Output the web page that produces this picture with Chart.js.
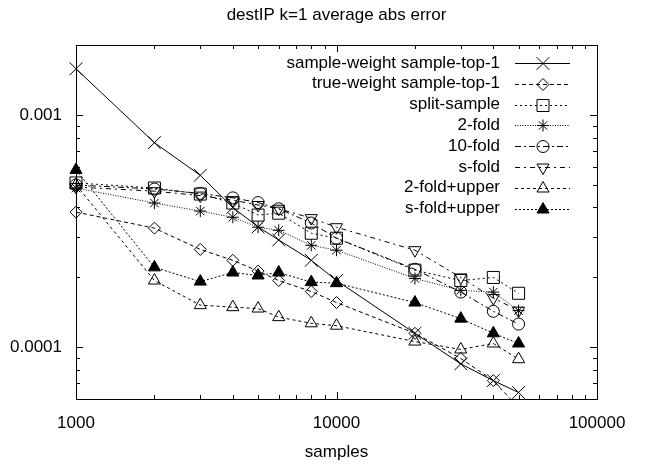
<!DOCTYPE html>
<html>
<head>
<meta charset="utf-8">
<script src="https://cdn.jsdelivr.net/npm/chart.js@4/dist/chart.umd.min.js"></script>
<style>
  html, body { margin: 0; padding: 0; background: #fff; }
  #wrap { width: 648px; height: 468px; }
</style>
</head>
<body>
<div id="wrap"><canvas id="chart" width="648" height="468"></canvas></div>
<script>
const chartTitle = "destIP k=1 average abs error";
const xTitle = "samples";

const samples = [1000, 2000, 3000, 4000, 5000, 6000, 8000, 10000, 20000, 30000, 40000, 50000];

const seriesNames = [
  "sample-weight sample-top-1",
  "true-weight sample-top-1",
  "split-sample",
  "2-fold",
  "10-fold",
  "s-fold",
  "2-fold+upper",
  "s-fold+upper"
];

const sampleWeight = [1.58e-3, 7.6e-4, 5.5e-4, 4.0e-4, 3.3e-4, 2.9e-4, 2.37e-4, 1.94e-4, 1.15e-4, 8.5e-5, 7.2e-5, 6.4e-5];
const trueWeight   = [3.82e-4, 3.26e-4, 2.64e-4, 2.37e-4, 2.13e-4, 1.94e-4, 1.74e-4, 1.56e-4, 1.15e-4, 8.96e-5, 7.2e-5, 5.5e-5];
const splitSample  = [5.1e-4, 4.85e-4, 4.57e-4, 4.18e-4, 3.71e-4, 3.78e-4, 3.1e-4, 2.95e-4, 2.15e-4, 1.94e-4, 2.0e-4, 1.71e-4];
const twoFold      = [4.85e-4, 4.18e-4, 3.86e-4, 3.63e-4, 3.29e-4, 3.19e-4, 2.75e-4, 2.62e-4, 1.98e-4, 1.76e-4, 1.73e-4, 1.44e-4];
const tenFold      = [5.0e-4, 4.8e-4, 4.6e-4, 4.4e-4, 4.2e-4, 3.95e-4, 3.43e-4, 2.95e-4, 2.17e-4, 1.73e-4, 1.43e-4, 1.26e-4];
const sFold        = [4.9e-4, 4.7e-4, 4.5e-4, 4.3e-4, 4.1e-4, 3.95e-4, 3.6e-4, 3.29e-4, 2.62e-4, 2.0e-4, 1.63e-4, 1.44e-4];
const twoFoldUpper = [5.0e-4, 1.94e-4, 1.52e-4, 1.49e-4, 1.47e-4, 1.35e-4, 1.27e-4, 1.24e-4, 1.06e-4, 9.8e-5, 1.04e-4, 8.9e-5];
const sFoldUpper   = [5.8e-4, 2.21e-4, 1.92e-4, 2.1e-4, 2.04e-4, 2.1e-4, 1.91e-4, 1.89e-4, 1.56e-4, 1.33e-4, 1.15e-4, 1.04e-4];

const xTickLabels = ["1000", "10000", "100000"];
const yTickLabels = ["0.0001", "0.001"];

const allValues = [sampleWeight, trueWeight, splitSample, twoFold, tenFold, sFold, twoFoldUpper, sFoldUpper];

const FONT = "'Liberation Sans', Arial, Helvetica, sans-serif";
const FS = 17;
const none = "rgba(0,0,0,0)";

// marker + dash per series, gnuplot style
const styles = [
  { dash: [],            point: "crossRot", r: 9,   fill: none },
  { dash: [4, 3],        point: "rectRot",  r: 6,   fill: none },
  { dash: [2, 3],        point: "rect",     r: 8.5, fill: none },
  { dash: [1, 1.5],      point: "star",     r: 6,   fill: none },
  { dash: [6, 3, 2, 3],  point: "circle",   r: 6,   fill: none },
  { dash: [5, 4, 2, 4],  point: "triangle", r: 7,   fill: none, rot: 180 },
  { dash: [3, 3],        point: "triangle", r: 7,   fill: none },
  { dash: [2, 2],        point: "triangle", r: 7,   fill: "#000" }
];

const datasets = allValues.map((vals, i) => ({
  label: seriesNames[i],
  data: samples.map((x, j) => ({ x: x, y: vals[j] })),
  borderColor: "#000",
  borderWidth: 1,
  borderDash: styles[i].dash,
  pointStyle: styles[i].point,
  pointRadius: styles[i].r,
  pointRotation: styles[i].rot || 0,
  pointBorderColor: "#000",
  pointBackgroundColor: styles[i].fill,
  pointBorderWidth: 1,
  tension: 0,
  clip: { left: 12, right: 12, top: 12, bottom: 0 }
}));

function isPow10(v) {
  const l = Math.log10(v);
  return Math.abs(l - Math.round(l)) < 1e-6;
}

function keepIntegerTicks(scale) {
  scale.ticks = scale.ticks.filter(t => {
    const s = t.value / Math.pow(10, Math.floor(Math.log10(t.value) + 1e-9));
    return Math.abs(s - Math.round(s)) < 1e-6;
  });
}

function labelFor(list, v) {
  if (!isPow10(v)) return "";
  const hit = list.find(s => Math.abs(Math.log10(parseFloat(s)) - Math.log10(v)) < 1e-6);
  return hit || "";
}

// title centred over the plot box, like gnuplot
const topTitle = {
  id: "topTitle",
  afterDraw(chart) {
    const ctx = chart.ctx;
    const a = chart.chartArea;
    ctx.save();
    ctx.fillStyle = "#000";
    ctx.font = FS + "px " + FONT;
    ctx.textAlign = "center";
    ctx.textBaseline = "middle";
    ctx.fillText(chartTitle, (a.left + a.right) / 2, 15);
    ctx.restore();
  }
};

// border box + inward ticks on all four sides
const frame = {
  id: "frame",
  afterDatasetsDraw(chart) {
    const ctx = chart.ctx;
    const a = chart.chartArea;
    ctx.save();
    ctx.strokeStyle = "#000";
    ctx.lineWidth = 1;
    ctx.setLineDash([]);
    ctx.beginPath();
    const xs = chart.scales.x, ys = chart.scales.y;
    xs.ticks.forEach(t => {
      const p = Math.round(xs.getPixelForValue(t.value)) + 0.5;
      const len = isPow10(t.value) ? 7 : 4;
      ctx.moveTo(p, a.bottom); ctx.lineTo(p, a.bottom - len);
      ctx.moveTo(p, a.top); ctx.lineTo(p, a.top + len);
    });
    ys.ticks.forEach(t => {
      const p = Math.round(ys.getPixelForValue(t.value)) + 0.5;
      const len = isPow10(t.value) ? 7 : 4;
      ctx.moveTo(a.left, p); ctx.lineTo(a.left + len, p);
      ctx.moveTo(a.right, p); ctx.lineTo(a.right - len, p);
    });
    ctx.stroke();
    ctx.strokeRect(Math.round(a.left) + 0.5, Math.round(a.top) + 0.5,
      Math.round(a.right - a.left), Math.round(a.bottom - a.top));
    ctx.restore();
  }
};

// gnuplot-like key: right-aligned text, line sample with marker
const key = {
  id: "key",
  afterDraw(chart) {
    const ctx = chart.ctx;
    const a = chart.chartArea;
    const textRight = a.right - 97;
    const lineL = a.right - 82, lineR = a.right - 27, mid = a.right - 54;
    ctx.save();
    chart.data.datasets.forEach((ds, i) => {
      const y = a.top + 18 + i * 20.8;
      ctx.fillStyle = "#000";
      ctx.font = FS + "px " + FONT;
      ctx.textAlign = "right";
      ctx.textBaseline = "middle";
      ctx.fillText(ds.label, textRight, y);
      ctx.strokeStyle = "#000";
      ctx.lineWidth = 1;
      ctx.setLineDash(ds.borderDash);
      ctx.beginPath();
      ctx.moveTo(lineL, Math.round(y) + 0.5);
      ctx.lineTo(lineR, Math.round(y) + 0.5);
      ctx.stroke();
      ctx.setLineDash([]);
      ctx.fillStyle = ds.pointBackgroundColor;
      ctx.strokeStyle = "#000";
      Chart.helpers.drawPoint(ctx, {
        pointStyle: ds.pointStyle,
        radius: ds.pointRadius,
        rotation: ds.pointRotation,
        borderWidth: 1
      }, mid, Math.round(y) + 0.5);
    });
    ctx.restore();
  }
};

new Chart(document.getElementById("chart"), {
  type: "line",
  data: { datasets: datasets },
  plugins: [frame, key, topTitle],
  options: {
    responsive: false,
    animation: false,
    layout: { padding: { left: 0, right: 51, top: 45, bottom: 0 } },
    plugins: {
      legend: { display: false },
      tooltip: { enabled: false },
      title: { display: false }
    },
    scales: {
      x: {
        type: "logarithmic",
        min: 1000,
        max: 100000,
        border: { display: false },
        grid: { display: false, drawTicks: false },
        afterBuildTicks: keepIntegerTicks,
        afterFit(scale) { scale.height = 69; },
        ticks: {
          autoSkip: false,
          maxRotation: 0,
          padding: 14,
          color: "#000",
          font: { family: FONT, size: FS },
          callback(v) { return labelFor(xTickLabels, v); }
        },
        title: {
          display: true,
          text: xTitle,
          color: "#000",
          font: { family: FONT, size: FS },
          padding: { top: 0, bottom: 5.8 }
        }
      },
      y: {
        type: "logarithmic",
        min: 6e-5,
        max: 2e-3,
        border: { display: false },
        grid: { display: false, drawTicks: false },
        afterBuildTicks: keepIntegerTicks,
        afterFit(scale) { scale.width = 76; },
        ticks: {
          autoSkip: false,
          padding: 14,
          color: "#000",
          font: { family: FONT, size: FS },
          callback(v) { return labelFor(yTickLabels, v); }
        }
      }
    }
  }
});
</script>
</body>
</html>
